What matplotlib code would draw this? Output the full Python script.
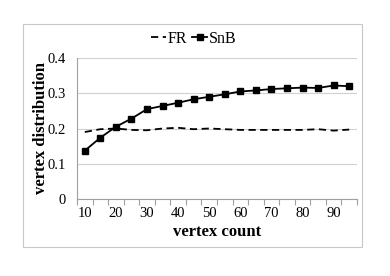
import matplotlib
matplotlib.use("Agg")
import matplotlib.pyplot as plt
from matplotlib.patches import Rectangle

plt.rcParams['font.family'] = ['Liberation Serif', 'DejaVu Serif']

vertex_counts = [10, 15, 20, 25, 30, 35, 40, 45, 50, 55, 60, 65, 70, 75, 80, 85, 90, 95]
fr_values = [0.190, 0.198, 0.200, 0.196, 0.195, 0.200, 0.202, 0.198, 0.200, 0.198,
             0.196, 0.196, 0.196, 0.196, 0.196, 0.198, 0.194, 0.197]
snb_values = [0.137, 0.174, 0.205, 0.228, 0.255, 0.264, 0.273, 0.283, 0.290, 0.297,
              0.305, 0.308, 0.312, 0.314, 0.316, 0.315, 0.322, 0.320]
y_ticks = [0, 0.1, 0.2, 0.3, 0.4]
y_tick_labels = ['0', '0.1', '0.2', '0.3', '0.4']

W, H = 390, 276
fig = plt.figure(figsize=(W / 100, H / 100), dpi=100)
# outer frame
fig.patches.append(Rectangle((23 / W, 1 - 247 / H), (362 - 23) / W, (247 - 24) / H,
                             transform=fig.transFigure, fill=False,
                             edgecolor='#c8c8c8', linewidth=0.8))

ax = fig.add_axes([77 / W, 1 - 199 / H, (357 - 77) / W, (199 - 58) / H])
n = len(vertex_counts)
x = list(range(n))
ax.plot(x, fr_values, color='black', linestyle=(0, (4, 2.5)), linewidth=1.3, label='FR')
ax.plot(x, snb_values, color='black', linestyle='-', linewidth=1.3, marker='s',
        markersize=4, label='SnB')

ax.set_xlim(-0.5, n - 0.5)
ax.set_ylim(0, 0.4)
ax.set_yticks(y_ticks)
ax.set_yticklabels(y_tick_labels)
ax.yaxis.grid(True, color='#d0d0d0', linewidth=0.8)
ax.set_axisbelow(True)

# major ticks at category boundaries, labels every other category
ax.set_xticks([i - 0.5 for i in range(n + 1)])
ax.set_xticklabels([''] * (n + 1))
ax.set_xticks(x[::2], minor=True)
ax.set_xticklabels([str(v) for v in vertex_counts[::2]], minor=True)
ax.tick_params(axis='x', which='major', length=4, color='#a0a0a0', width=0.8)
ax.tick_params(axis='x', which='minor', length=0, labelsize=10.5, pad=6)
ax.tick_params(axis='y', length=0, labelsize=10.5, pad=8)

for s in ['top', 'right']:
    ax.spines[s].set_visible(False)
ax.spines['left'].set_color('#a0a0a0')
ax.spines['bottom'].set_color('#a0a0a0')
ax.spines['left'].set_linewidth(0.8)
ax.spines['bottom'].set_linewidth(0.8)

ax.set_xlabel('vertex count', fontsize=12, fontweight='bold', labelpad=3)
ax.set_ylabel('vertex distribution', fontsize=12, fontweight='bold', labelpad=-1)

fig.legend(loc='center', bbox_to_anchor=(194 / W, 1 - 39 / H), ncol=2, frameon=False,
           fontsize=11.5, handlelength=0.9, handletextpad=0.15, columnspacing=0.3)

fig.savefig('out.png', dpi=100)
